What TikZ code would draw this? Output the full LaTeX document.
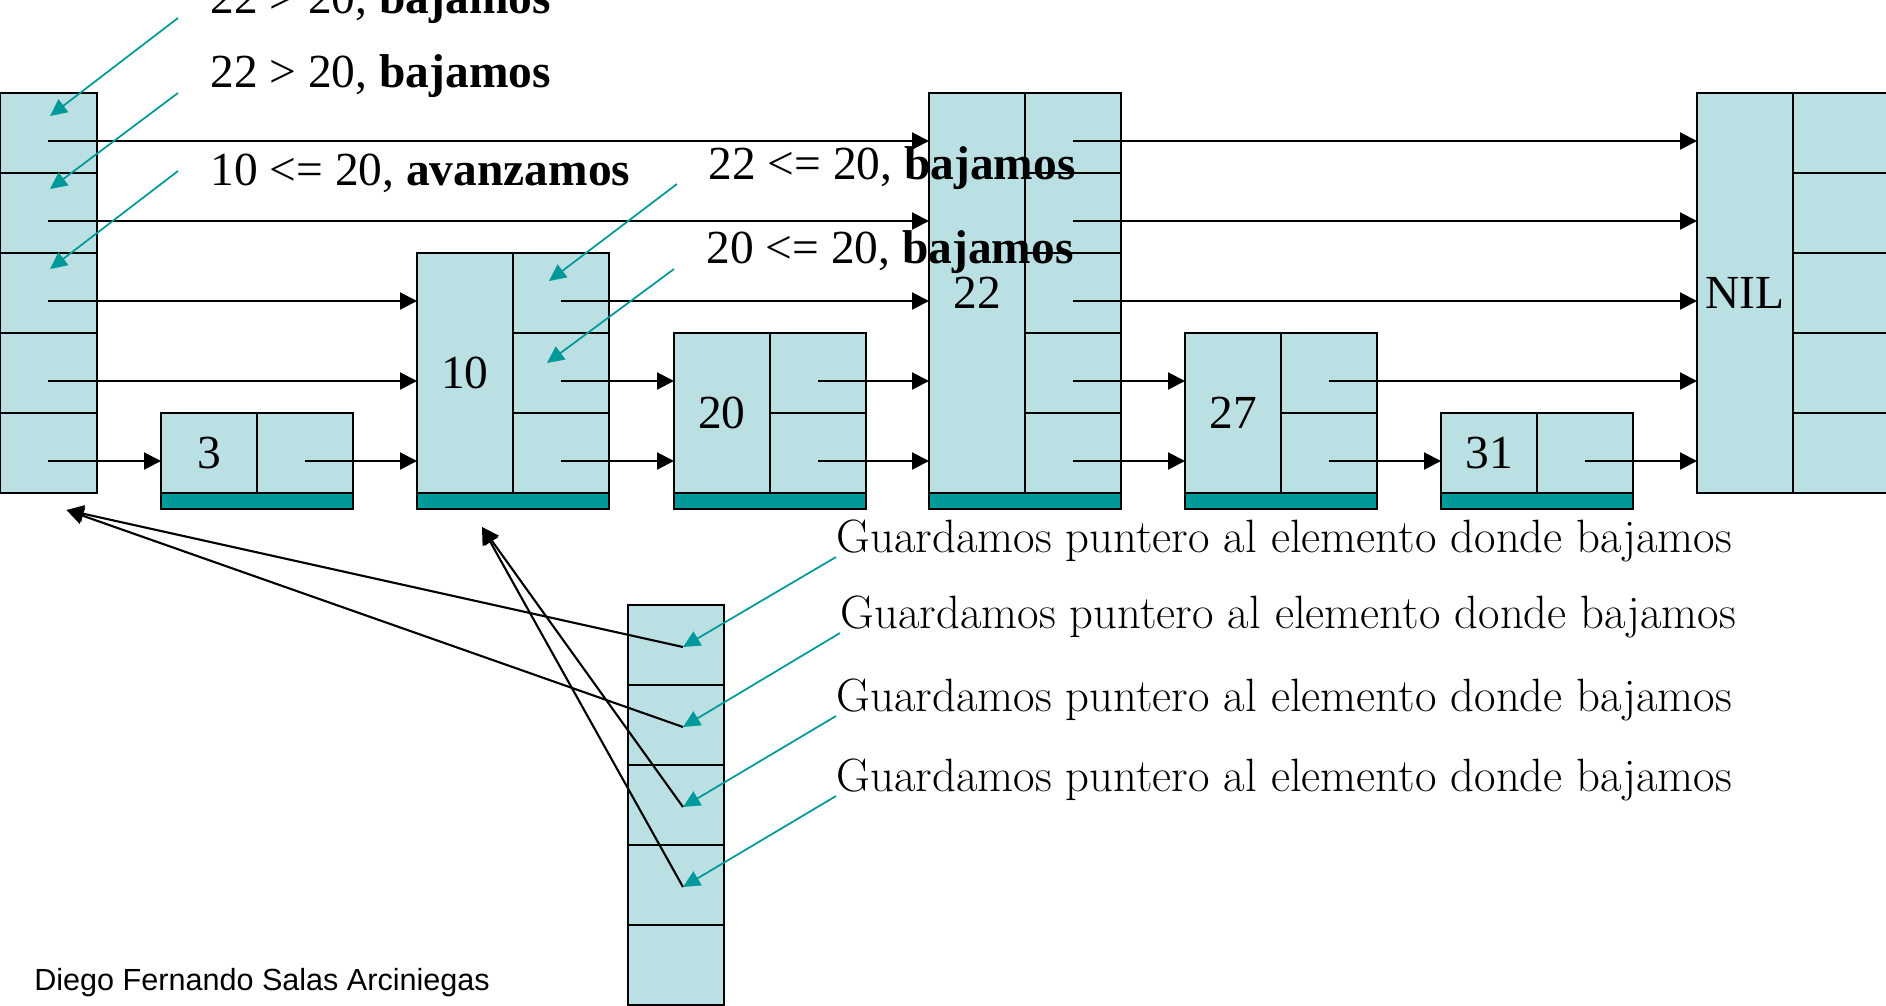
\documentclass[tikz,border=0pt]{standalone}
\usepackage{fontspec}
\usetikzlibrary{arrows.meta,positioning}
\newfontfamily\tnr{Liberation Serif}
\newfontfamily\footfont{Liberation Sans}
\definecolor{cellfill}{HTML}{BBE0E3}
\definecolor{tealbar}{HTML}{009999}

% one element of the skip list: name, left x, levels, key
\newcommand{\skipelem}[4]{%
  \node[keycell, minimum height=#3*1.6cm, anchor=south west] (k#1) at (#2,493) {#4};
  \foreach \l in {1,...,#3}
    \node[cell, anchor=south west] (p#1-\l) at ([yshift=(\l-1)*1.6cm]k#1.south east) {};
}

\begin{document}
\begin{tikzpicture}[x=0.02cm, y=-0.02cm,
  cell/.style={draw, line width=1.1pt, fill=cellfill, minimum width=1.92cm, minimum height=1.6cm, inner sep=0pt, outer sep=0pt},
  keycell/.style={cell, font=\tnr\fontsize{27}{32}\selectfont},
  bar/.style={draw, line width=1.1pt, fill=tealbar, minimum width=3.84cm, minimum height=0.32cm, inner sep=0pt, outer sep=0pt},
  ptr/.style={line width=1.2pt, -{Triangle[length=0.34cm,width=0.34cm]}},
  hint/.style={tealbar, line width=1pt, -{Triangle[length=0.34cm,width=0.32cm]}},
  note/.style={font=\tnr\fontsize{27}{32}\selectfont, anchor=base west, inner sep=0pt},
  saved/.style={font=\fontsize{26.6}{31}\selectfont, anchor=base west, inner sep=0pt}]
  \path[use as bounding box] (0,0) rectangle (1886,1005);
  \clip (0,0) rectangle (1886,1005);

  % header
  \foreach \l in {1,...,5}
    \node[cell, minimum width=1.94cm, anchor=south west] (h-\l) at (0,{493-80*(\l-1)}) {};

  % elements
  \skipelem{3}{161}{1}{3}
  \skipelem{10}{417}{3}{10}
  \skipelem{20}{674}{2}{20}
  \skipelem{22}{929}{5}{22}
  \skipelem{27}{1185}{2}{27}
  \skipelem{31}{1441}{1}{31}
  \skipelem{NIL}{1697}{5}{NIL}
  \foreach \e in {3,10,20,22,27,31}
    \node[bar, anchor=north west] (b\e) at (k\e.south west) {};

  % forward pointers
  \foreach \l in {1,...,5}
    \coordinate (L\l) at (0,{541-80*\l});
  \foreach \from/\to/\l in {h-5/k22/5, p22-5/kNIL/5, h-4/k22/4, p22-4/kNIL/4,
      h-3/k10/3, p10-3/k22/3, p22-3/kNIL/3,
      h-2/k10/2, p10-2/k20/2, p20-2/k22/2, p22-2/k27/2, p27-2/kNIL/2,
      h-1/k3/1, p3-1/k10/1, p10-1/k20/1, p20-1/k22/1, p22-1/k27/1, p27-1/k31/1, p31-1/kNIL/1}
    \draw[ptr] (\from.center |- L\l) -- (\to.west |- L\l);

  % update vector
  \foreach \s in {1,...,5}
    \node[cell, anchor=north west] (s-\s) at (628,{605+80*(\s-1)}) {};
  \foreach \s in {1,...,4}
    \coordinate (m\s) at ([shift={(7,2)}]s-\s.center);
  \draw[ptr] (m1) -- ([shift={(18,17)}]h-1.south);
  \draw[ptr] (m2) -- ([shift={(18,17)}]h-1.south);
  \draw[ptr] (m3) -- ([shift={(-31,18)}]b10.south);
  \draw[ptr] (m4) -- ([shift={(-31,18)}]b10.south);

  % search steps
  \node[note] (n1) at (210,13) {22 > 20, \textbf{bajamos}};
  \node[note] (n2) at (210,87) {22 > 20, \textbf{bajamos}};
  \node[note] (n3) at (210,185) {10 <= 20, \textbf{avanzamos}};
  \node[note] (n4) at (708,179) {22 <= 20, \textbf{bajamos}};
  \node[note] (n5) at (706,263) {20 <= 20, \textbf{bajamos}};
  \coordinate (q1) at (178,18);
  \coordinate (q2) at (178,93);
  \coordinate (q3) at (178,171);
  \coordinate (q4) at (677,184);
  \coordinate (q5) at (674,269);
  \draw[hint] (q1) -- ([shift={(1.5,-17)}]h-5.center);
  \draw[hint] (q2) -- ([shift={(1.5,-24)}]h-4.center);
  \draw[hint] (q3) -- ([shift={(1.5,-24)}]h-3.center);
  \draw[hint] (q4) -- ([shift={(-12,-12)}]p10-3.center);
  \draw[hint] (q5) -- ([shift={(-14,-10)}]p10-2.center);

  % saved pointers
  \node[saved] (g1) at (836,552) {Guardamos puntero al elemento donde bajamos};
  \node[saved] (g2) at (840,628) {Guardamos puntero al elemento donde bajamos};
  \node[saved] (g3) at (836,711) {Guardamos puntero al elemento donde bajamos};
  \node[saved] (g4) at (836,791) {Guardamos puntero al elemento donde bajamos};
  \foreach \s in {1,...,4}
    \draw[hint] ([shift={(0,5)}]g\s.base west) -- (m\s);

  \node[anchor=base west, inner sep=0pt, font=\footfont\fontsize{17.4}{21}\selectfont] (author) at (34,990) {Diego Fernando Salas Arciniegas};
\end{tikzpicture}
\end{document}
